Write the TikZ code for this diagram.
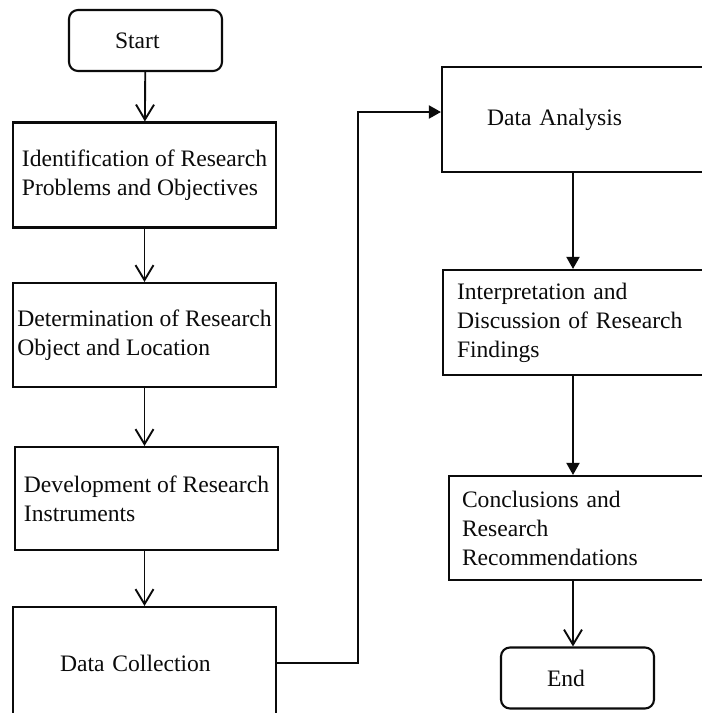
\documentclass[tikz,border=0pt]{standalone}
\usepackage{fontspec}
\setmainfont{Liberation Serif}
\usepackage{tikz}
\usetikzlibrary{arrows.meta,positioning}
\definecolor{fcink}{HTML}{0B0B0B}
\tikzset{
  stepbox/.style={draw=fcink,line width=2.1pt,rectangle,minimum width=263pt,
              minimum height=105pt,inner ysep=4pt,align=left,
              font=\fontsize{23.6}{29}\selectfont,text=fcink},
  termbox/.style={draw=fcink,line width=2.1pt,rectangle,rounded corners=9pt,
              minimum width=153pt,minimum height=61pt,inner xsep=46pt,
              text width=61pt,align=left,font=\fontsize{23.6}{29}\selectfont,text=fcink},
  opene/.style={-{Straight Barb[length=15pt,width=18pt]},line width=1.9pt,draw=fcink},
  fille/.style={-{Triangle[length=12pt,width=13pt]},line width=1.9pt,draw=fcink},
}
\begin{document}
\begin{tikzpicture}[x=1pt,y=-1pt]
  \useasboundingbox (0,0) rectangle (702,713);
  \clip (0,0) rectangle (702,713);

  % left column
  \node[termbox] (start) at (145.5,40.5) {Start};
  \node[stepbox] (ident) at (144.5,175) {Identification of Research\\Problems and Objectives};
  \node[stepbox,minimum height=104pt] (object) at (144.5,335) {Determination of Research\\Object and Location};
  \node[stepbox,minimum height=103pt] (instr) at (146.5,498.5) {Development of Research\\Instruments};
  \node[stepbox,minimum height=112pt,inner xsep=47pt,text width=169pt] (collect) at (144.5,663) {Data Collection};

  % right column
  \coordinate (spine) at (573,0);
  \node[stepbox,inner xsep=45pt,text width=173pt] (analysis) at (573.5,119.5) {Data Analysis};
  \node[stepbox,inner xsep=14pt,text width=235pt] (interp) at (574.5,322.5) {Interpretation and\\Discussion of Research\\Findings};
  \node[stepbox,minimum height=104pt,inner xsep=13pt,text width=237pt] (concl) at (580.5,528) {Conclusions and\\Research\\Recommendations};
  \node[termbox] (finish) at (577.5,678) {End};

  \draw[opene] (start) -- (ident);
  \draw[opene] (ident) -- (object);
  \draw[opene] (object) -- (object.south |- instr.north);
  \draw[opene] (instr.south -| collect) -- (collect);
  \draw[fille] (collect.east) -- ++(81,0) |- ([yshift=7.5pt]analysis.west);
  \draw[fille] (analysis.south -| spine) -- (interp.north -| spine);
  \draw[fille] (interp.south -| spine) -- (concl.north -| spine);
  \draw[opene] (concl.south -| spine) -- (finish.north -| spine);
\end{tikzpicture}
\end{document}
